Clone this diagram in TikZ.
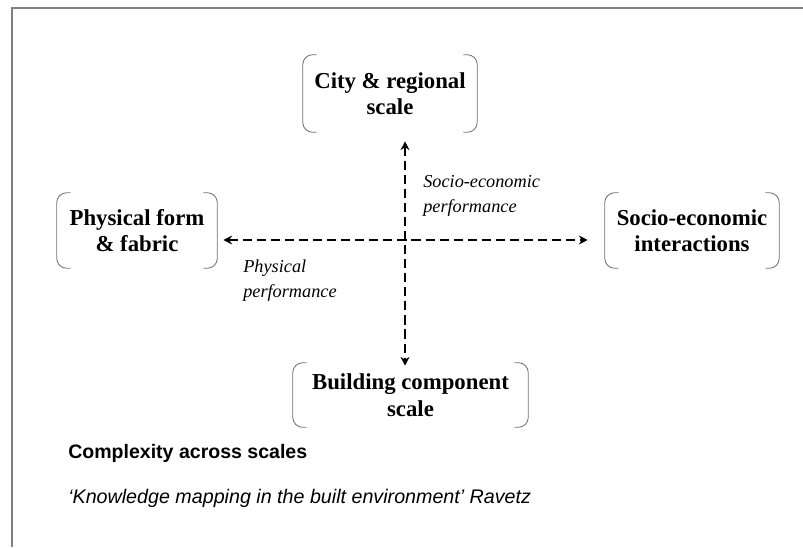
\documentclass[tikz,border=0pt]{standalone}
\usepackage{fontspec}
\setmainfont{Liberation Serif}
\setsansfont{Liberation Sans}
\usetikzlibrary{arrows.meta}

\begin{document}
\begin{tikzpicture}[
    scalebox/.style={rectangle, inner sep=0pt, minimum width=#1, align=center, font=\fontsize{16.2}{18.8}\selectfont\bfseries},
    scalebox/.default=4cm,
    brk/.style={draw=black!55, line width=0.6pt, rounded corners=0.25cm},
    arr/.style={{Stealth[length=2.2mm, width=2.2mm]}-{Stealth[length=2.2mm, width=2.2mm]}, line width=1.4pt, dash pattern=on 6.5pt off 3.5pt},
    perf/.style={anchor=west, inner sep=0pt, align=left, font=\fontsize{13}{17.7}\selectfont\itshape}
]
\useasboundingbox (0,0) rectangle (20.075,13.675);

% slide frame
\draw[black!50, line width=0.8pt] (0.3,0) |- (20.075,13.475);

% The four scales
\node[scalebox=4.35cm, minimum height=1.925cm] (city) at (9.75, 11.3375) {City \& regional\\scale};
\node[scalebox=4cm, minimum height=1.875cm] (form) at (3.425, 7.9125) {Physical form\\\& fabric};
\node[scalebox=4.35cm, minimum height=1.875cm] (socio) at (17.3, 7.9125) {Socio-economic\\interactions};
\node[scalebox=5.875cm, minimum height=1.6cm] (build) at (10.2625, 3.8) {Building component\\scale};

% round brackets on both sides of each box
\foreach \n in {city, form, socio, build} {
    \draw[brk] (\n.north west) ++(0.35,0) -- (\n.north west) -- (\n.south west) -- ++(0.35,0);
    \draw[brk] (\n.north east) ++(-0.35,0) -- (\n.north east) -- (\n.south east) -- ++(-0.35,0);
}

% Axes
\coordinate (ctr) at (10.125, 7.675);
\draw[arr, shorten <=0.225cm, shorten >=-0.075cm] (ctr |- city.south) -- (ctr |- build.north);
\draw[arr, shorten <=0.15cm, shorten >=0.425cm] (ctr -| form.east) -- (ctr -| socio.west);

% Axis labels
\node[perf] (socperf) at (10.575, 8.7875) {Socio-economic\\performance};
\node[perf] (physperf) at (6.075, 6.6625) {Physical\\performance};

% Caption
\node[anchor=west, inner sep=0pt, font=\sffamily\bfseries\fontsize{13.9}{16}\selectfont] (title) at (1.7, 2.35) {Complexity across scales};
\node[anchor=west, inner sep=0pt, font=\sffamily\itshape\fontsize{14}{16}\selectfont] (source) at (1.7, 1.225) {‘Knowledge mapping in the built environment’ Ravetz};

\end{tikzpicture}
\end{document}
